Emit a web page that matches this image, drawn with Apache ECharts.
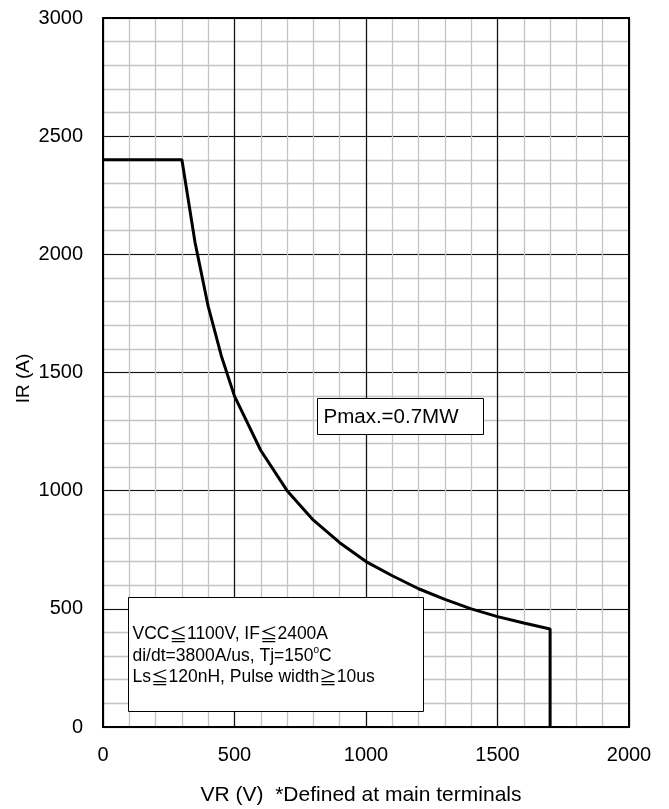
<!DOCTYPE html>
<html>
<head>
<meta charset="utf-8">
<script src="https://cdn.jsdelivr.net/npm/echarts@6/dist/echarts.min.js"></script>
<style>
  html, body { margin: 0; padding: 0; background: #fff; }
  #chart { width: 669px; height: 809px; }
</style>
</head>
<body>
<div id="chart"></div>
<script>
// Reverse-recovery safe operating area curve
const vrValues = [0, 300, 350, 400, 450, 500, 600, 700, 800, 900, 1000, 1100, 1200, 1300, 1400, 1500, 1600, 1700, 1700];
const irValues = [2400, 2400, 2050, 1780, 1570, 1400, 1170, 1000, 875, 780, 700, 640, 585, 540, 500, 467, 440, 415, 0];

const xTicks = [0, 500, 1000, 1500, 2000];
const yTicks = [0, 500, 1000, 1500, 2000, 2500, 3000];

const pmaxText = 'Pmax.=0.7MW';
const conditionLines = [
  'VCC{cjk|≦}1100V, IF{cjk|≦}2400A',
  'di/dt=3800A/us, Tj=150{sup|o}C',
  'Ls{cjk|≦}120nH, Pulse width{cjk|≧}10us'
];

const curve = vrValues.map((v, i) => [v, irValues[i]]);

const font = 'Arial, "Liberation Sans", sans-serif';
const chart = echarts.init(document.getElementById('chart'));

const minorSplit = { show: true, lineStyle: { color: '#c4c4c4', width: 1.3 } };
const majorSplit = { show: true, lineStyle: { color: '#111', width: 1.2 } };

chart.setOption({
  animation: false,
  backgroundColor: '#fff',
  grid: {
    left: 103, right: 40, top: 18, bottom: 82, outerBoundsMode: 'none',
    show: true, borderColor: '#000', borderWidth: 2, backgroundColor: 'transparent', z: 10
  },
  xAxis: [
    {
      type: 'value', min: 0, max: 2000, interval: 100,
      axisLine: { show: false }, axisTick: { show: false }, axisLabel: { show: false },
      splitLine: minorSplit
    },
    {
      type: 'value', min: 0, max: 2000, interval: 500, position: 'bottom',
      axisLine: { show: false }, axisTick: { show: false },
      axisLabel: {
        show: true, margin: 18, color: '#000', fontFamily: font, fontSize: 20,
        formatter: v => (xTicks.includes(v) ? String(v) : '')
      },
      splitLine: majorSplit,
      name: 'VR (V)  *Defined at main terminals', nameLocation: 'middle', nameGap: 58,
      nameMoveOverlap: false,
      nameTextStyle: { color: '#000', fontFamily: font, fontSize: 21, padding: [0, 10, 0, 0] }
    }
  ],
  yAxis: [
    {
      type: 'value', min: 0, max: 3000, interval: 100,
      axisLine: { show: false }, axisTick: { show: false }, axisLabel: { show: false },
      splitLine: minorSplit
    },
    {
      type: 'value', min: 0, max: 3000, interval: 500, position: 'left',
      axisLine: { show: false }, axisTick: { show: false },
      axisLabel: {
        show: true, margin: 20, color: '#000', fontFamily: font, fontSize: 20,
        formatter: v => (yTicks.includes(v) ? String(v) : '')
      },
      splitLine: majorSplit,
      name: 'IR (A)', nameLocation: 'middle', nameGap: 70, nameRotate: 90,
      nameMoveOverlap: false,
      nameTextStyle: { color: '#000', fontFamily: font, fontSize: 19, padding: [0, 12, 0, 0] }
    }
  ],
  series: [
    {
      type: 'line', xAxisIndex: 1, yAxisIndex: 1, data: curve,
      showSymbol: false, smooth: false,
      lineStyle: { color: '#000', width: 3 }, z: 5
    }
  ],
  graphic: [
    {
      type: 'group', left: 317, top: 398, z: 100, zlevel: 1,
      children: [
        { type: 'rect', z: 100, zlevel: 1, shape: { x: 0, y: 0, width: 166, height: 36 }, style: { fill: '#fff', stroke: '#000', lineWidth: 1 } },
        { type: 'text', z: 101, zlevel: 1, x: 6, y: 19, style: { text: pmaxText, fill: '#000', font: '20.5px ' + font, verticalAlign: 'middle' } }
      ]
    },
    {
      type: 'group', left: 128, top: 597, z: 100, zlevel: 1,
      children: [
        { type: 'rect', z: 100, zlevel: 1, shape: { x: 0, y: 0, width: 295, height: 114 }, style: { fill: '#fff', stroke: '#000', lineWidth: 1 } },
        {
          type: 'text', z: 101, zlevel: 1, x: 4, y: 26,
          style: {
            text: conditionLines.join('\n'), fill: '#000', font: '17.5px ' + font, lineHeight: 21.5,
            rich: {
              sup: { fontSize: 10, verticalAlign: 'top', padding: [0, 0, 7, 0], fontFamily: font },
              cjk: { fontSize: 17.5, fontFamily: '"Noto Sans CJK JP"', lineHeight: 21.5 }
            }
          }
        }
      ]
    }
  ]
});
</script>
</body>
</html>
